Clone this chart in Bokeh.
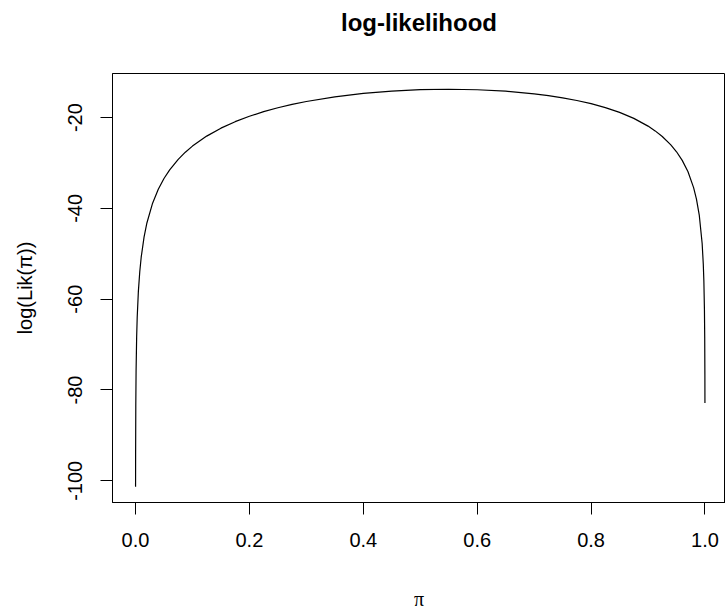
from bokeh.plotting import figure
from bokeh.models import FixedTicker, Range1d, PrintfTickFormatter, Div
from bokeh.layouts import column
from bokeh.embed import file_html
from bokeh.resources import INLINE

# values (binomial log-likelihood curve)
p_vals = [0.0001, 0.0002, 0.0005, 0.001, 0.002, 0.003, 0.005, 0.0075, 0.01, 0.015,
          0.02, 0.03, 0.04, 0.05, 0.06, 0.075, 0.0875, 0.1, 0.125, 0.15, 0.175, 0.2,
          0.225, 0.25, 0.275, 0.3, 0.35, 0.4, 0.45, 0.5, 0.55, 0.6, 0.65, 0.7, 0.725,
          0.75, 0.775, 0.8, 0.825, 0.85, 0.875, 0.9, 0.9125, 0.925, 0.94, 0.95, 0.96,
          0.97, 0.98, 0.985, 0.99, 0.995, 0.997, 0.998, 0.999, 0.9995, 0.9998, 0.9999]
loglik = [-101.31, -93.69, -83.61, -75.99, -68.38, -63.93, -58.33, -53.89, -50.75, -46.33,
          -43.21, -38.85, -35.78, -33.41, -31.50, -29.20, -27.62, -26.28, -24.08, -22.33, -20.90, -19.71,
          -18.70, -17.84, -17.10, -16.45, -15.43, -14.68, -14.16, -13.86, -13.76, -13.87, -14.19, -14.76, -15.16,
          -15.64, -16.23, -16.94, -17.80, -18.86, -20.18, -21.88, -22.93, -24.17, -26.00, -27.53, -29.42,
          -31.89, -35.43, -37.96, -41.56, -47.74, -52.31, -55.95, -62.18, -68.42, -76.66, -82.89]

x_ticks = [0.0, 0.2, 0.4, 0.6, 0.8, 1.0]
y_ticks = [-100, -80, -60, -40, -20]
title_text = "log-likelihood"
x_label = "π"
y_label = "log(Lik(π))"

FONT = "Liberation Sans"

# title as a text block above the plot, centred over the (partly cut-off) plot box
title_div = Div(
    text=('<div style="font-family: \'Liberation Sans\', Arial, sans-serif; font-weight: bold; '
          'font-size: 24px; line-height: 28px; margin: 0; padding: 9px 0 0 113px; '
          'box-sizing: border-box; width: 725px; text-align: center; color: black;">'
          + title_text + '</div>'),
    width=725, height=40, margin=0)

p = figure(width=725, height=572, output_backend="svg", toolbar_location=None,
           x_range=Range1d(-0.0404, 1.036), y_range=Range1d(-104.78, -10.29),
           min_border_left=112, min_border_top=33, min_border_bottom=103, min_border_right=0,
           margin=0)
p.background_fill_color = "white"
p.border_fill_color = "white"
p.outline_line_color = "black"
p.outline_line_width = 1
p.xgrid.visible = False
p.ygrid.visible = False

p.line(p_vals, loglik, line_color="black", line_width=1.2)

for ax in (p.xaxis[0], p.yaxis[0]):
    ax.major_label_text_font = FONT
    ax.major_label_text_font_size = "20px"
    ax.major_label_text_color = "black"
    ax.major_tick_out = 12
    ax.major_tick_in = 0
    ax.minor_tick_out = 0
    ax.minor_tick_in = 0
    ax.major_tick_line_color = "black"
    ax.axis_line_color = "black"
    ax.axis_label_text_font_size = "20px"
    ax.axis_label_text_font_style = "normal"
    ax.axis_label_text_color = "black"

p.xaxis[0].ticker = FixedTicker(ticks=x_ticks)
p.xaxis[0].formatter = PrintfTickFormatter(format="%.1f")
p.xaxis[0].major_label_standoff = 18
p.xaxis[0].axis_label = x_label
p.xaxis[0].axis_label_text_font = "Liberation Serif"
p.xaxis[0].axis_label_standoff = 38

p.yaxis[0].ticker = FixedTicker(ticks=y_ticks)
p.yaxis[0].formatter = PrintfTickFormatter(format="%d")
p.yaxis[0].major_label_orientation = "vertical"
p.yaxis[0].major_label_standoff = 18
p.yaxis[0].axis_label = y_label
p.yaxis[0].axis_label_text_font = FONT
p.yaxis[0].axis_label_standoff = 30

layout = column(title_div, p, spacing=0)

open("out.html", "w").write(file_html(layout, INLINE))
